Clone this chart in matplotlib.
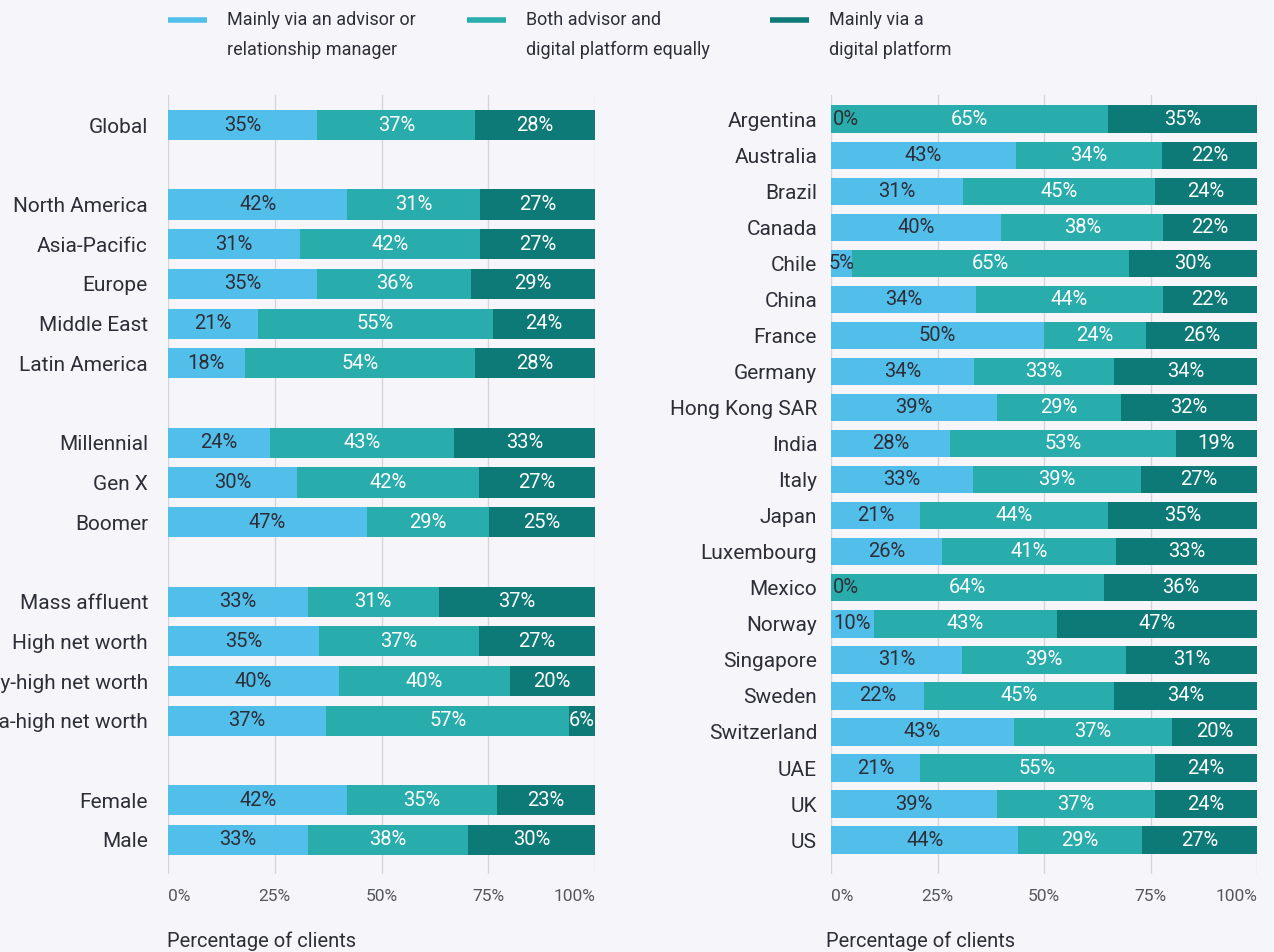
#coding:utf-8

#
# stacked horizontal bars, how clients want to interact with their wealth manager
#

import numpy as np
from matplotlib import pyplot as plt
from matplotlib.lines import Line2D

# data, left panel (segments)
left_names = ['Global', 'North America', 'Asia-Pacific', 'Europe', 'Middle East', 'Latin America',
	'Millennial', 'Gen X', 'Boomer',
	'Mass affluent', 'High net worth', 'Very-high net worth', 'Ultra-high net worth',
	'Female', 'Male']
left_rows = [0, 2, 3, 4, 5, 6, 8, 9, 10, 12, 13, 14, 15, 17, 18]   # empty rows between groups
left_advisor = [35, 42, 31, 35, 21, 18, 24, 30, 47, 33, 35, 40, 37, 42, 33]
left_both    = [37, 31, 42, 36, 55, 54, 43, 42, 29, 31, 37, 40, 57, 35, 38]
left_digital = [28, 27, 27, 29, 24, 28, 33, 27, 25, 37, 27, 20, 6, 23, 30]

# data, right panel (markets)
right_names = ['Argentina', 'Australia', 'Brazil', 'Canada', 'Chile', 'China', 'France', 'Germany',
	'Hong Kong SAR', 'India', 'Italy', 'Japan', 'Luxembourg', 'Mexico', 'Norway', 'Singapore',
	'Sweden', 'Switzerland', 'UAE', 'UK', 'US']
right_advisor = [0, 43, 31, 40, 5, 34, 50, 34, 39, 28, 33, 21, 26, 0, 10, 31, 22, 43, 21, 39, 44]
right_both    = [65, 34, 45, 38, 65, 44, 24, 33, 29, 53, 39, 44, 41, 64, 43, 39, 45, 37, 55, 37, 29]
right_digital = [35, 22, 24, 22, 30, 22, 26, 34, 32, 19, 27, 35, 33, 36, 47, 31, 34, 20, 24, 24, 27]

series_names = ['Mainly via an advisor or\nrelationship manager',
	'Both advisor and\ndigital platform equally',
	'Mainly via a\ndigital platform']
ticks = [0, 25, 50, 75, 100]

colors = ['#52bfeb', '#29adac', '#0e7a77']
text_colors = ['#2e2e38', 'white', 'white']
bg = '#f6f6fa'
dark = '#2e2e38'

plt.rcParams['font.family'] = ['Roboto', 'DejaVu Sans']


def plot_stack(ax, names, rows, series, ylim, pad):
	data = np.array(series, dtype=float)   # 3 x n
	share = data / data.sum(axis=0) * 100.0   # stretch to full bar
	left = np.zeros(data.shape[1])
	for k in range(3):
		ax.barh(rows, share[k], left=left, height=0.76, color=colors[k], zorder=2)
		for i in range(data.shape[1]):
			lab = '%d%%' % data[k, i]
			if share[k, i] < 3:
				ax.text(left[i] + 0.4, rows[i], lab, ha='left', va='center',
					fontsize=14.5, color=dark, zorder=3)
			else:
				ax.text(left[i] + share[k, i] / 2.0, rows[i], lab, ha='center', va='center',
					fontsize=14.5, color=text_colors[k], zorder=3)
		left = left + share[k]

	ax.set_xlim(0, 100)
	ax.set_ylim(ylim)
	ax.set_facecolor(bg)
	ax.set_yticks(rows)
	ax.set_yticklabels(names, fontsize=15, color=dark)
	ax.set_xticks(ticks)
	labs = ax.set_xticklabels(['%d%%' % t for t in ticks], fontsize=12.5, color='#55555f')
	labs[0].set_ha('left')
	labs[-1].set_ha('right')
	ax.tick_params(axis='y', length=0, pad=pad)
	ax.tick_params(axis='x', length=0, pad=11)
	ax.grid(axis='x', color='#d4d4dc', lw=1, zorder=0)
	for s in ax.spines.values():
		s.set_visible(False)


if __name__ == '__main__':

	fig = plt.figure(figsize=(12.74, 9.52), dpi=100)
	fig.patch.set_facecolor(bg)

	W, H = 1274.0, 952.0
	ax1 = fig.add_axes([168 / W, 1 - 874 / H, 427 / W, 779 / H])
	ax2 = fig.add_axes([831 / W, 1 - 874 / H, 426 / W, 779 / H])

	plot_stack(ax1, left_names, left_rows, [left_advisor, left_both, left_digital], (18.86, -0.76), 14.4)
	plot_stack(ax2, right_names, list(range(len(right_names))),
		[right_advisor, right_both, right_digital], (20.94, -0.67), 10)

	# axis titles
	fig.text(167 / W, 1 - 941 / H, 'Percentage of clients', fontsize=14.5, color=dark, va='center')
	fig.text(826 / W, 1 - 941 / H, 'Percentage of clients', fontsize=14.5, color=dark, va='center')

	# legend, drawn by hand
	for k, x0 in enumerate([168, 467, 770]):
		fig.add_artist(Line2D([x0 / W, (x0 + 39) / W], [1 - 20 / H, 1 - 20 / H],
			color=colors[k], lw=4, solid_capstyle='butt'))
		fig.text((x0 + 59) / W, 1 - 35 / H, series_names[k], fontsize=13, color=dark,
			va='center', linespacing=1.9)

	fig.savefig('out.png', dpi=100, facecolor=bg)

#This file uses TAB
